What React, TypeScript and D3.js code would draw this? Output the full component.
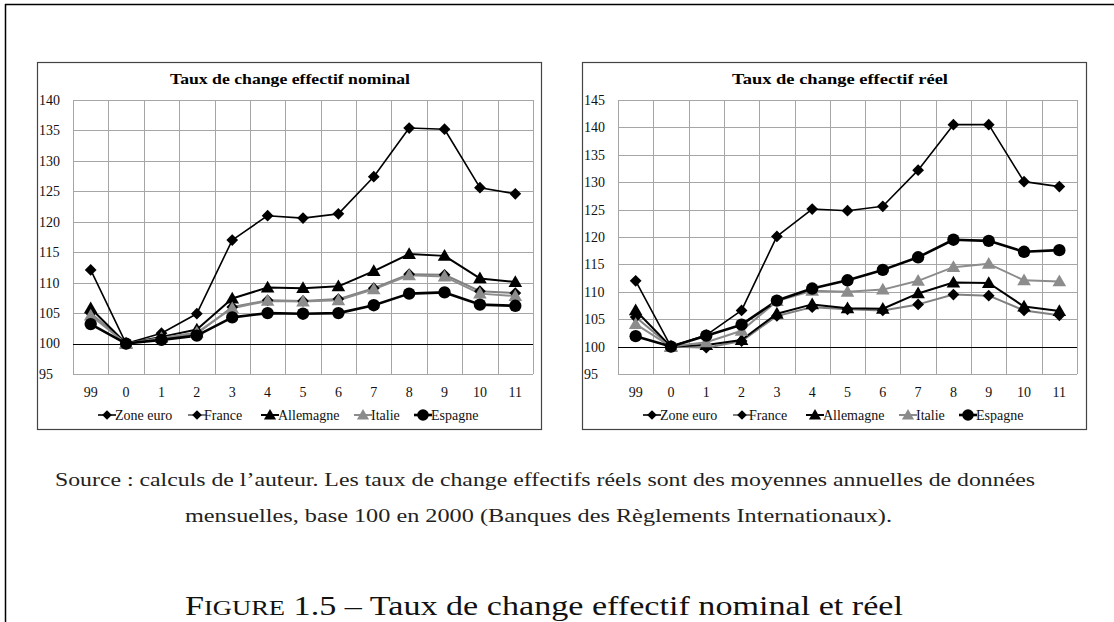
import React from 'react';
import * as d3 from 'd3';

const categories = ['99', '0', '1', '2', '3', '4', '5', '6', '7', '8', '9', '10', '11'];
const seriesNames = ['Zone euro', 'France', 'Allemagne', 'Italie', 'Espagne'];

const nominalZoneEuro = [112.1, 100, 101.7, 104.9, 117.0, 121.0, 120.6, 121.3, 127.4, 135.4, 135.2, 125.6, 124.6];
const nominalFrance = [105.0, 100, 100.8, 101.6, 106.0, 107.1, 107.0, 107.3, 109.1, 111.4, 111.3, 108.6, 108.3];
const nominalAllemagne = [105.8, 100, 101.1, 102.3, 107.4, 109.2, 109.1, 109.4, 111.9, 114.7, 114.4, 110.7, 110.1];
const nominalItalie = [104.6, 100, 100.9, 101.8, 105.8, 107.0, 106.9, 107.1, 108.9, 111.2, 111.0, 108.2, 107.8];
const nominalEspagne = [103.2, 100, 100.6, 101.3, 104.3, 105.0, 104.9, 105.0, 106.3, 108.2, 108.4, 106.4, 106.2];

const realZoneEuro = [112.0, 100, 102.1, 106.6, 120.1, 125.1, 124.8, 125.6, 132.2, 140.5, 140.5, 130.1, 129.2];
const realFrance = [105.4, 100, 99.8, 101.0, 105.6, 107.2, 106.8, 106.6, 107.7, 109.5, 109.3, 106.6, 105.7];
const realAllemagne = [106.6, 100, 100.3, 101.2, 106.0, 107.7, 107.0, 106.9, 109.7, 111.7, 111.6, 107.3, 106.5];
const realItalie = [104.1, 100, 100.8, 102.9, 108.3, 110.2, 110.0, 110.4, 112.0, 114.5, 115.1, 112.1, 111.9];
const realEspagne = [101.9, 100, 102.0, 104.0, 108.4, 110.6, 112.1, 114.0, 116.3, 119.5, 119.3, 117.3, 117.6];

const nominalTicks = [95, 100, 105, 110, 115, 120, 125, 130, 135, 140];
const realTicks = [95, 100, 105, 110, 115, 120, 125, 130, 135, 140, 145];

const titleNominal = 'Taux de change effectif nominal';
const titleReal = 'Taux de change effectif réel';
const captionLine1 = 'Source : calculs de l’auteur. Les taux de change effectifs réels sont des moyennes annuelles de données';
const captionLine2 = 'mensuelles, base 100 en 2000 (Banques des Règlements Internationaux).';

const FONT = "'Liberation Serif', 'DejaVu Serif', 'Times New Roman', Times, serif";

const styles = [
  { marker: 'diamond', line: '#000', fill: '#000', width: 1.6 },
  { marker: 'diamond', line: '#808080', fill: '#000', width: 2 },
  { marker: 'triangle', line: '#000', fill: '#000', width: 2 },
  { marker: 'triangle', line: '#8c8c8c', fill: '#8c8c8c', width: 2 },
  { marker: 'circle', line: '#000', fill: '#000', width: 2.6 },
];

const symbolFor = (m: string) => {
  if (m === 'diamond') return d3.symbol(d3.symbolDiamond2, 88)();
  if (m === 'triangle') return d3.symbol(d3.symbolTriangle, 80)();
  return d3.symbol(d3.symbolCircle, 120)();
};
const legendSymbolFor = (m: string) => {
  if (m === 'diamond') return d3.symbol(d3.symbolDiamond2, 60)();
  if (m === 'triangle') return d3.symbol(d3.symbolTriangle, 64)();
  return d3.symbol(d3.symbolCircle, 105)();
};

const legendMarkerOffsets = [70, 160, 233, 326, 386];
const legendTextOffsets = [78, 167, 241, 334, 394];

type ChartProps = {
  boxX: number;
  plotX0: number;
  plotX1: number;
  title: string;
  titleX: number;
  titleW: number;
  ticks: number[];
  data: number[][];
};

function Chart({ boxX, plotX0, plotX1, title, titleX, titleW, ticks, data }: ChartProps) {
  const boxY = 62;
  const boxW = 504;
  const boxH = 367;
  const plotY0 = 100;
  const plotY1 = 374;
  const x = d3.scaleBand<string>().domain(categories).range([plotX0, plotX1]).padding(0);
  const y = d3.scaleLinear().domain([ticks[0], ticks[ticks.length - 1]]).range([plotY1, plotY0]);
  const cx = (c: string) => (x(c) as number) + x.bandwidth() / 2;
  const line = d3
    .line<number>()
    .x((_, i) => cx(categories[i]))
    .y((d) => y(d));
  const legendY = 415;
  return (
    <g>
      <rect x={boxX + 0.5} y={boxY + 0.5} width={boxW} height={boxH} fill="#fff" stroke="#444" strokeWidth={1.2} />
      <text
        x={titleX}
        y={84}
        textAnchor="middle"
        style={{ fontFamily: FONT }}
        fontWeight="bold"
        fontSize={15}
        textLength={titleW}
        lengthAdjust="spacingAndGlyphs"
      >
        {title}
      </text>
      {ticks.map((t) => (
        <line key={'h' + t} x1={plotX0} x2={plotX1} y1={Math.round(y(t)) + 0.5} y2={Math.round(y(t)) + 0.5} stroke="#a6a6a6" strokeWidth={1} />
      ))}
      {categories.map((c) => (
        <line key={'v' + c} x1={Math.round(x(c) as number) + 0.5} x2={Math.round(x(c) as number) + 0.5} y1={plotY0} y2={plotY1} stroke="#a6a6a6" strokeWidth={1} />
      ))}
      <line x1={plotX1 + 0.5} x2={plotX1 + 0.5} y1={plotY0} y2={plotY1} stroke="#a6a6a6" strokeWidth={1} />
      <line x1={plotX0} x2={plotX1} y1={Math.round(y(100)) + 0.5} y2={Math.round(y(100)) + 0.5} stroke="#000" strokeWidth={1} />
      {ticks.map((t) => (
        <text key={'yt' + t} x={boxX + 2} y={y(t)} dy="0.35em" style={{ fontFamily: FONT }} fontSize={14} fill="#111">
          {t}
        </text>
      ))}
      {categories.map((c) => (
        <text key={'xt' + c} x={cx(c)} y={397} textAnchor="middle" style={{ fontFamily: FONT }} fontSize={14} fill="#111">
          {c}
        </text>
      ))}
      {data.map((vals, si) => (
        <path key={'l' + si} d={line(vals) as string} fill="none" stroke={styles[si].line} strokeWidth={styles[si].width} strokeLinejoin="round" />
      ))}
      {data.map((vals, si) =>
        vals.map((v, i) => (
          <path
            key={'m' + si + '-' + i}
            d={symbolFor(styles[si].marker) as string}
            transform={`translate(${cx(categories[i])},${y(v) + (styles[si].marker === 'triangle' ? 1 : 0)})`}
            fill={styles[si].fill}
          />
        ))
      )}
      {seriesNames.map((name, si) => {
        const mx = boxX + legendMarkerOffsets[si];
        return (
          <g key={'lg' + si}>
            <line x1={mx - 9} x2={mx + 9} y1={legendY} y2={legendY} stroke={styles[si].line} strokeWidth={styles[si].width} />
            <path
              d={legendSymbolFor(styles[si].marker) as string}
              transform={`translate(${mx},${legendY + (styles[si].marker === 'triangle' ? 1 : 0)})`}
              fill={styles[si].fill}
            />
            <text x={boxX + legendTextOffsets[si]} y={legendY} dy="0.35em" style={{ fontFamily: FONT }} fontSize={14} fill="#111">
              {name}
            </text>
          </g>
        );
      })}
    </g>
  );
}

export default function App() {
  const nominalData = [nominalZoneEuro, nominalFrance, nominalAllemagne, nominalItalie, nominalEspagne];
  const realData = [realZoneEuro, realFrance, realAllemagne, realItalie, realEspagne];
  return (
    <svg
      width={1114}
      height={622}
      viewBox="0 0 1114 622"
      style={{ position: 'absolute', left: 0, top: 0, background: '#fff' }}
    >
      <rect x={0} y={0} width={1114} height={622} fill="#fff" />
      <line x1={5} x2={1114} y1={4.5} y2={4.5} stroke="#000" strokeWidth={1.5} />
      <line x1={5.5} x2={5.5} y1={4} y2={622} stroke="#000" strokeWidth={1.5} />
      <Chart
        boxX={37}
        plotX0={73}
        plotX1={533}
        title={titleNominal}
        titleX={290}
        titleW={240}
        ticks={nominalTicks}
        data={nominalData}
      />
      <Chart
        boxX={582}
        plotX0={618}
        plotX1={1077}
        title={titleReal}
        titleX={840}
        titleW={216}
        ticks={realTicks}
        data={realData}
      />
      <text x={545} y={486} textAnchor="middle" style={{ fontFamily: FONT }} fontSize={18} fill="#222" textLength={980} lengthAdjust="spacingAndGlyphs">
        {captionLine1}
      </text>
      <text x={538.5} y={522} textAnchor="middle" style={{ fontFamily: FONT }} fontSize={18} fill="#222" textLength={707} lengthAdjust="spacingAndGlyphs">
        {captionLine2}
      </text>
      <text x={544} y={615} textAnchor="middle" style={{ fontFamily: FONT }} fontSize={27} fill="#111" textLength={718} lengthAdjust="spacingAndGlyphs">
        <tspan>F</tspan>
        <tspan fontSize={21}>IGURE</tspan>
        <tspan> 1.5 – Taux de change effectif nominal et réel</tspan>
      </text>
    </svg>
  );
}
